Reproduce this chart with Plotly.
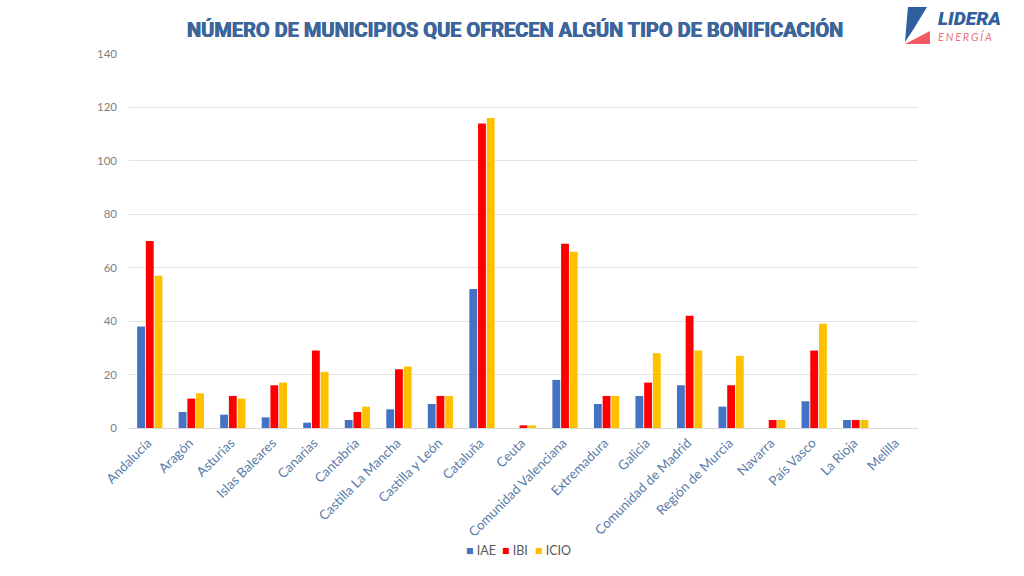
import plotly.graph_objects as go

categories = ["Andalucía", "Aragón", "Asturias", "Islas Baleares", "Canarias", "Cantabria",
              "Castilla La Mancha", "Castilla y León", "Cataluña", "Ceuta", "Comunidad Valenciana",
              "Extremadura", "Galicia", "Comunidad de Madrid", "Región de Murcia", "Navarra",
              "País Vasco", "La Rioja", "Melilla"]
iae = [38, 6, 5, 4, 2, 3, 7, 9, 52, 0, 18, 9, 12, 16, 8, 0, 10, 3, 0]
ibi = [70, 11, 12, 16, 29, 6, 22, 12, 114, 1, 69, 12, 17, 42, 16, 3, 29, 3, 0]
icio = [57, 13, 11, 17, 21, 8, 23, 12, 116, 1, 66, 12, 28, 29, 27, 3, 39, 3, 0]
y_ticks = [0, 20, 40, 60, 80, 100, 120, 140]

W, H = 1024, 576
L, R, T, B = 129, 918, 54, 427.6
px = lambda x: (x - L) / (R - L)
py = lambda y: (B - y) / (B - T)

series = [("IAE", iae, "#4472C4", 463.5), ("IBI", ibi, "#FF0000", 499.5), ("ICIO", icio, "#FFC000", 532.5)]

fig = go.Figure()
for name, vals, col, _ in series:
    fig.add_bar(x=categories, y=vals, name=name, marker=dict(color=col, line_width=0))

def poly(pts, col):
    path = "M " + " L ".join(f"{px(x):.4f},{py(y):.4f}" for x, y in pts) + " Z"
    return dict(type="path", xref="paper", yref="paper", path=path, fillcolor=col, line_width=0, layer="above")

legend_notes = [
    dict(text=f'<span style="color:{col}">■</span> {name}', xref="paper", yref="paper",
         x=px(lx), y=py(550), xanchor="left", yanchor="middle", showarrow=False,
         font=dict(family="Lato", size=12.5, color="#595959"))
    for name, _, col, lx in series
]

fig.update_layout(
    width=W, height=H, autosize=False,
    margin=dict(l=L, r=W - R, t=T, b=H - B, pad=0),
    paper_bgcolor="white", plot_bgcolor="white",
    barmode="group", bargap=0.37, bargroupgap=0.1,
    showlegend=False,
    font=dict(family="Lato"),
    xaxis=dict(type="category", tickangle=-45, showgrid=False, showline=True, linecolor="#D9D9D9", linewidth=1,
               ticks="", ticklabelstandoff=1, ticklabelshift=-2,
               tickfont=dict(family="Lato", size=13.3, color="#5A7CA8"), automargin=False),
    yaxis=dict(range=[0, 140], tickvals=y_ticks, showgrid=True, gridcolor="#E4E4E4", gridwidth=1,
               zeroline=False, showline=False, ticks="", ticklabelstandoff=11,
               tickfont=dict(family="Lato", size=11.5, color="#7F7F7F"), automargin=False),
    shapes=[
        poly([(908, 7), (927, 7), (913, 30), (905, 42)], "#2F5F9E"),
        poly([(905, 44), (930, 31), (930, 44)], "#EF5B62"),
    ],
    annotations=[
        dict(text="NÚMERO DE MUNICIPIOS QUE OFRECEN ALGÚN TIPO DE BONIFICACIÓN",
             xref="paper", yref="paper", x=px(514.5), y=py(30), xanchor="center", yanchor="middle",
             showarrow=False,
             font=dict(family="Roboto", size=20, weight=700, color="#3B659B",
                       shadow="0.4px 0 0 #3B659B, -0.4px 0 0 #3B659B")),
        dict(text="<i>LIDERA</i>", xref="paper", yref="paper", x=px(936.5), y=py(18.5), xanchor="left",
             yanchor="middle", showarrow=False, borderpad=0,
             font=dict(family="Roboto", size=19.2, weight=900, color="#2F5F9E")),
        dict(text="<i>E\u2009\u200aN\u2009\u200aE\u2009\u200aR\u2009\u200aG\u2009\u200aÍ\u2009\u200aA</i>", xref="paper", yref="paper", x=px(937), y=py(36.7),
             xanchor="left", yanchor="middle", showarrow=False, borderpad=0,
             font=dict(family="Lato", size=10.8, color="#E8767C")),
    ] + legend_notes,
)
fig.write_html("out.html", post_script="document.body.style.margin='0';", config={"displayModeBar": False})
